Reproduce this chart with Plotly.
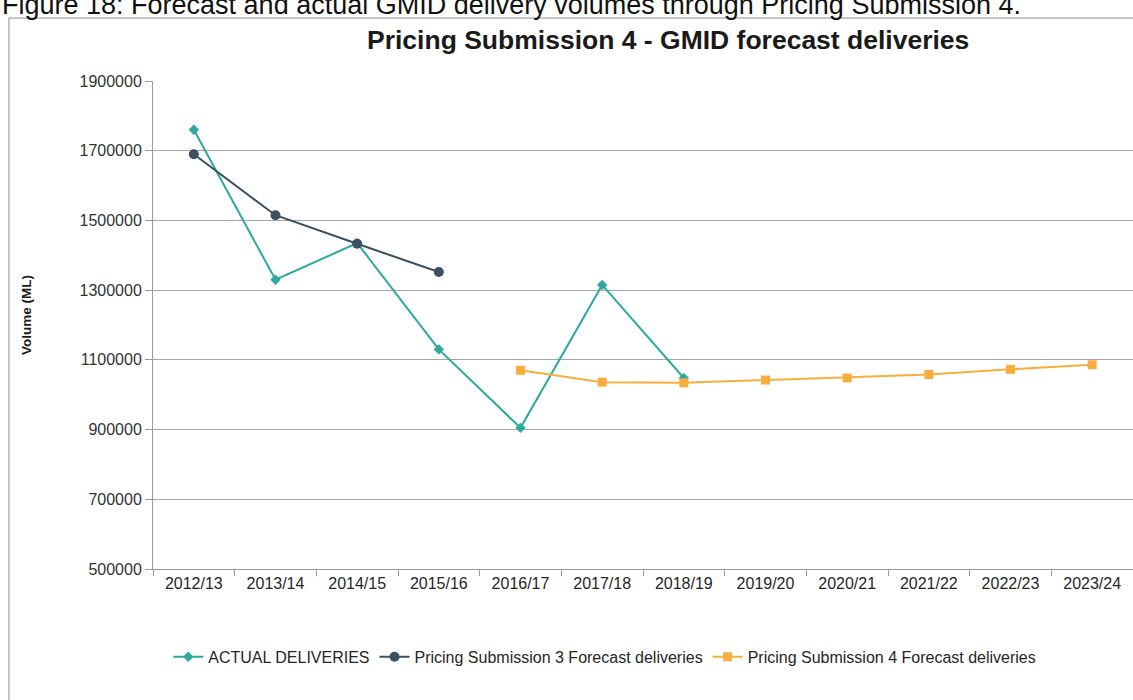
import plotly.graph_objects as go

# Financial years on the category axis
years = ["2012/13", "2013/14", "2014/15", "2015/16", "2016/17", "2017/18",
         "2018/19", "2019/20", "2020/21", "2021/22", "2022/23", "2023/24"]

# Delivery volumes (ML)
actual_years = years[:7]
actual_deliveries = [1760000, 1330000, 1435000, 1130000, 905000, 1315000, 1048000]

ps3_years = years[:4]
ps3_forecast = [1690000, 1515000, 1433000, 1352000]

ps4_years = years[4:]
ps4_forecast = [1070000, 1036000, 1034000, 1042000, 1048000, 1058000, 1073000, 1086000]

y_ticks = [500000, 700000, 900000, 1100000, 1300000, 1500000, 1700000, 1900000]

TEAL = "#2BAA9D"
SLATE = "#3B5063"
ORANGE = "#F8AE3C"
FONT = "Liberation Sans, Arial, sans-serif"

fig = go.Figure()
fig.add_trace(go.Scatter(
    x=actual_years, y=actual_deliveries, name="ACTUAL DELIVERIES",
    mode="lines+markers", line=dict(color=TEAL, width=2),
    marker=dict(symbol="diamond", size=8, color=TEAL)))
fig.add_trace(go.Scatter(
    x=ps3_years, y=ps3_forecast, name="Pricing Submission 3 Forecast deliveries",
    mode="lines+markers", line=dict(color=SLATE, width=2),
    marker=dict(symbol="circle", size=10, color=SLATE)))
fig.add_trace(go.Scatter(
    x=ps4_years, y=ps4_forecast, name="Pricing Submission 4 Forecast deliveries",
    mode="lines+markers", line=dict(color=ORANGE, width=2),
    marker=dict(symbol="square", size=9, color=ORANGE)))

fig.update_layout(
    width=1133, height=700,
    margin=dict(l=153, r=0, t=81, b=131),
    paper_bgcolor="white", plot_bgcolor="white",
    font=dict(family=FONT, size=16, color="#333333"),
    showlegend=True,
    legend=dict(orientation="h", x=0.461, xanchor="center", y=-0.18, yanchor="middle",
                font=dict(family=FONT, size=16, color="#262626"),
                itemwidth=30, tracegroupgap=0, bgcolor="rgba(0,0,0,0)"),
    xaxis=dict(type="category", categoryorder="array", categoryarray=years,
               range=[-0.5, 11.5], tickson="boundaries", ticks="outside",
               ticklen=6, tickcolor="#9a9a9a", showline=True, linecolor="#9a9a9a",
               linewidth=1, showgrid=False, zeroline=False,
               tickfont=dict(family=FONT, size=16, color="#262626")),
    yaxis=dict(range=[500000, 1900000], tickvals=y_ticks,
               ticktext=[str(v) for v in y_ticks], ticks="outside", ticklen=7,
               tickcolor="#9a9a9a", showline=True, linecolor="#9a9a9a", linewidth=1,
               showgrid=True, gridcolor="#a6a6a6", gridwidth=1, zeroline=False,
               tickfont=dict(family=FONT, size=16, color="#333333")),
)

# Outer frame around the chart
fig.add_shape(type="rect", xref="paper", yref="paper",
              x0=-0.147, x1=1.05, y0=-0.6, y1=1.129,
              line=dict(color="#8c8c8c", width=1), layer="below")

# Caption above the frame
fig.add_annotation(text="Figure 18: Forecast and actual GMID delivery volumes through Pricing Submission 4.",
                   xref="paper", yref="paper", x=-0.156, y=1.12,
                   xanchor="left", yanchor="bottom", showarrow=False,
                   font=dict(family=FONT, size=27, color="#111111"))

# Chart title
fig.add_annotation(text="<b>Pricing Submission 4 - GMID forecast deliveries</b>",
                   xref="paper", yref="paper", x=0.5255, y=1.084,
                   xanchor="center", yanchor="middle", showarrow=False,
                   font=dict(family=FONT, size=26.5, color="#1a1a1a"))

# Y axis title
fig.add_annotation(text="<b>Volume (ML)</b>", xref="paper", yref="paper",
                   x=-0.1286, y=0.5205, xanchor="center", yanchor="middle",
                   textangle=-90, showarrow=False,
                   font=dict(family=FONT, size=13.5, color="#1a1a1a"))

fig.write_html("out.html")
